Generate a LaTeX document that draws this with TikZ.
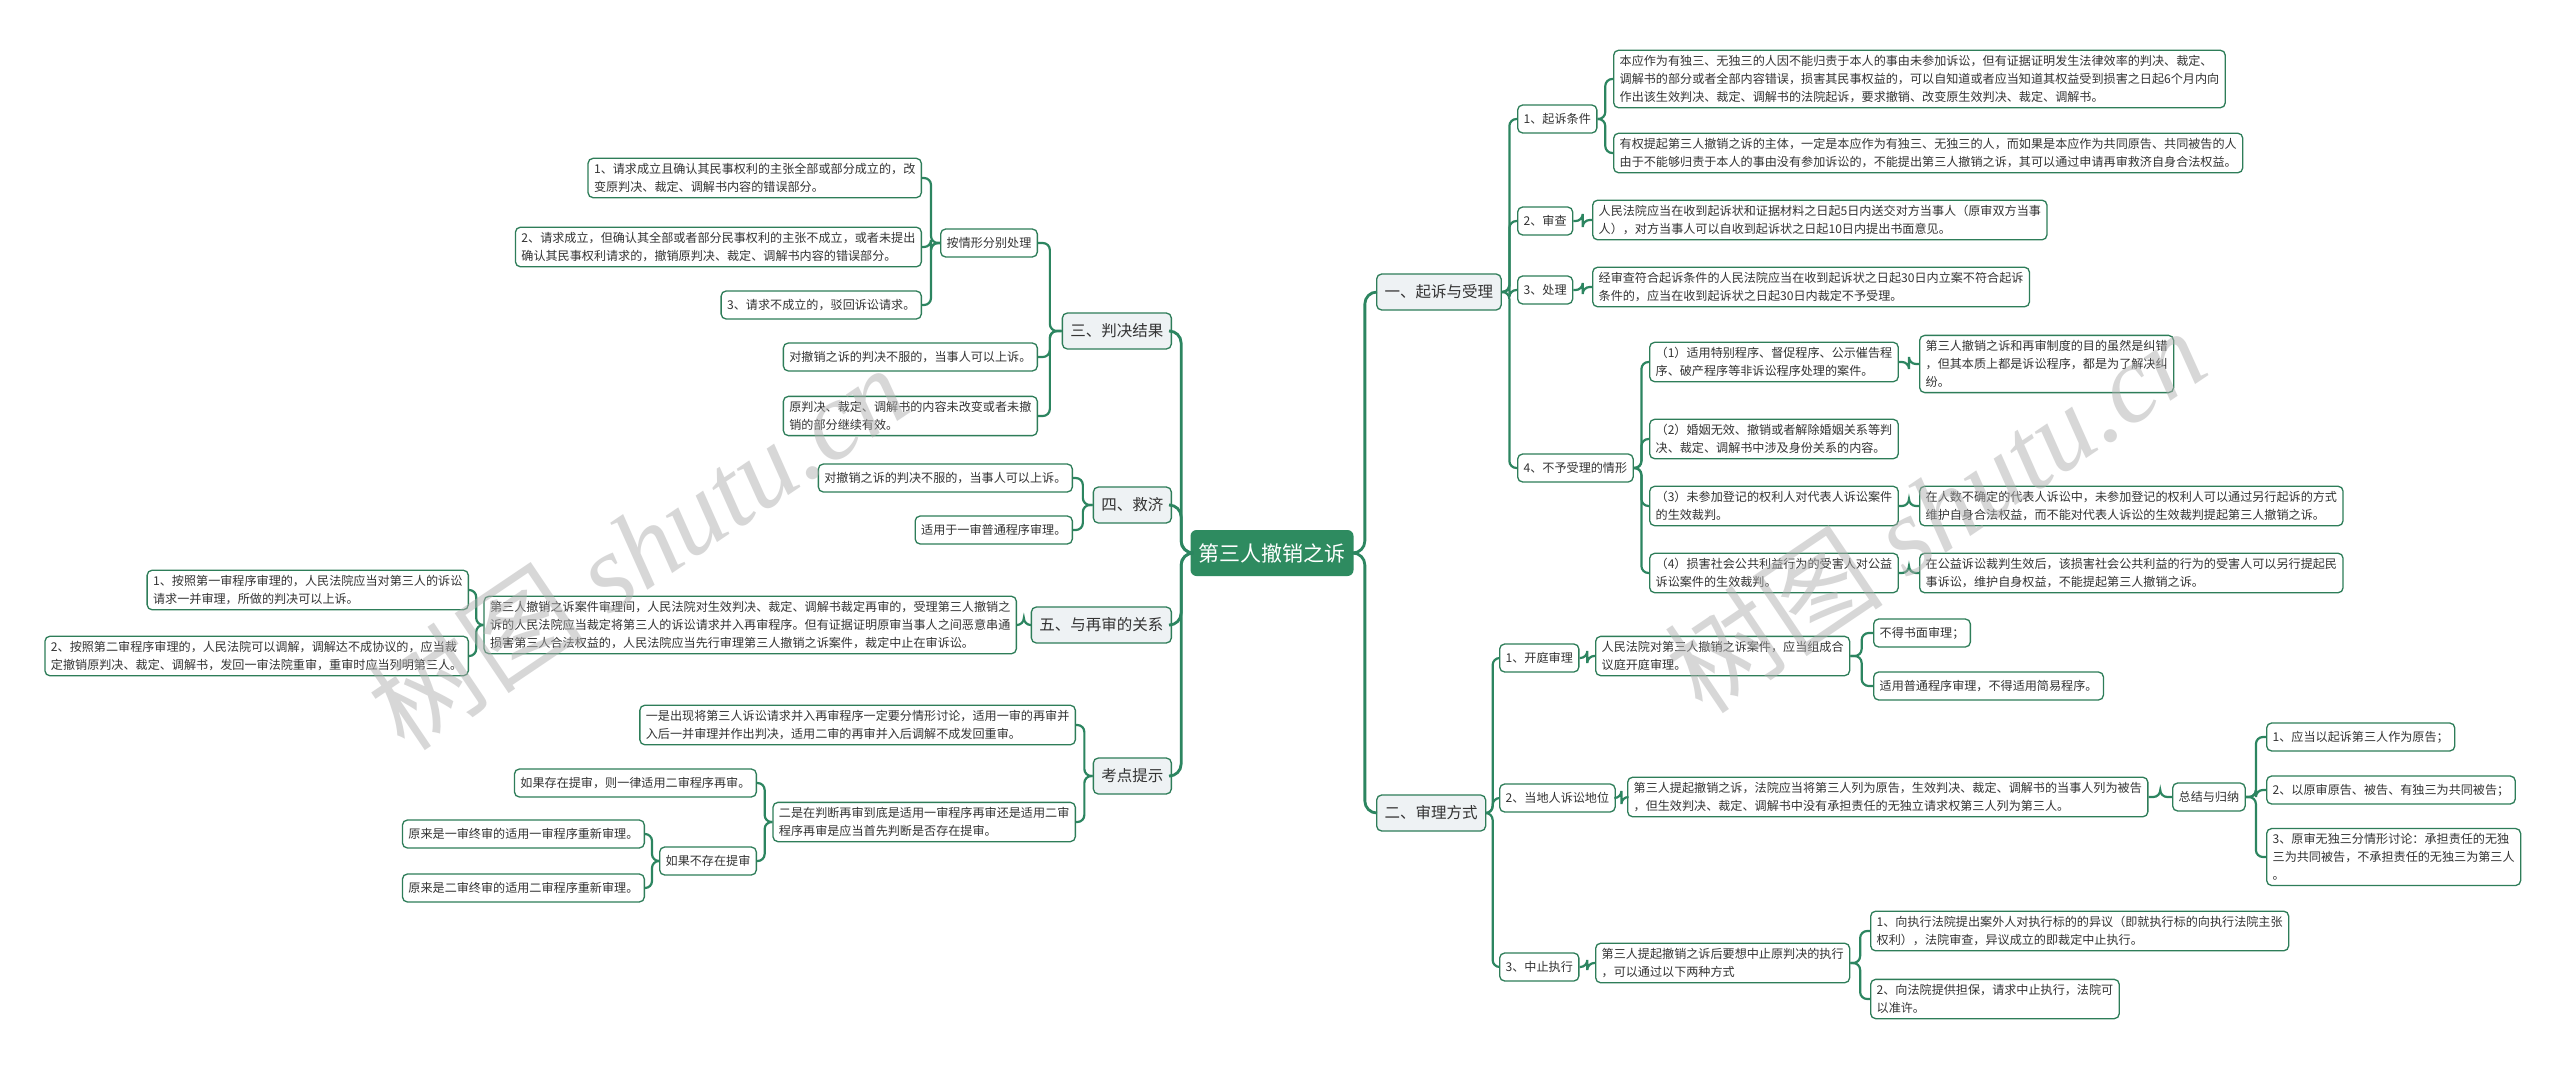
\documentclass[tikz,border=0pt]{standalone}
\usepackage{fontspec}
\setmainfont{Noto Sans CJK SC}
\newfontfamily\wmlatin{Liberation Serif}
\usetikzlibrary{calc}
\definecolor{bc}{HTML}{2E7D59}
\definecolor{lc}{HTML}{2C8560}
\definecolor{lv}{HTML}{EEF2F4}
\definecolor{rootc}{HTML}{2E8B60}
\definecolor{tc}{HTML}{333333}
\definecolor{wmc}{HTML}{B0B0B0}
\tikzset{
  box/.style={draw=bc, line width=1.3pt, rounded corners=5pt, fill=white, text=tc, inner xsep=6pt, inner ysep=5pt, align=left, font=\fontsize{12.1}{18}\selectfont},
  lab/.style={box, minimum height=28pt},
  lvone/.style={box, fill=lv, font=\fontsize{15.5}{19}\selectfont, inner xsep=8pt, minimum height=36pt},
  rootbox/.style={draw=none, fill=rootc, rounded corners=6pt, text=white, font=\fontsize{21}{25}\selectfont, inner xsep=8pt, minimum height=46pt, minimum width=160pt},
  link/.style={draw=lc, line width=2.2pt, rounded corners=7pt},
  mainlink/.style={link, line width=2.8pt, rounded corners=12pt},
  wm/.style={text=wmc, text opacity=0.5, font=\fontsize{110}{110}\selectfont}
}
\newcommand\mmR[3][link]{\draw[#1] let \p1=(#2.east), \p2=(#3.west) in (\p1) -- ({(\x1+\x2)/2},\y1) -- ({(\x1+\x2)/2},\y2) -- (\p2);}
\newcommand\mmL[3][link]{\draw[#1] let \p1=(#2.west), \p2=(#3.east) in (\p1) -- ({(\x1+\x2)/2},\y1) -- ({(\x1+\x2)/2},\y2) -- (\p2);}
\begin{document}
\begin{tikzpicture}[x=1pt,y=-1pt]
\useasboundingbox (0,0) rectangle (2560,1071);
\fill[white] (0,0) rectangle (2560,1071);

% root
\node[rootbox] (root) at (1272,553) {第三人撤销之诉};

% right level 1
\node[lvone,anchor=west] (n1) at (1376,292) {一、起诉与受理};
\node[lvone,anchor=west] (n2) at (1376,813) {二、审理方式};

% branch 一
\node[lab,anchor=west] (a1) at (1517,119) {1、起诉条件};
\node[box,anchor=west] (a1x) at (1613,79) {本应作为有独三、无独三的人因不能归责于本人的事由未参加诉讼，但有证据证明发生法律效率的判决、裁定、\\调解书的部分或者全部内容错误，损害其民事权益的，可以自知道或者应当知道其权益受到损害之日起6个月内向\\作出该生效判决、裁定、调解书的法院起诉，要求撤销、改变原生效判决、裁定、调解书。};
\node[box,anchor=west] (a1y) at (1613,153) {有权提起第三人撤销之诉的主体，一定是本应作为有独三、无独三的人，而如果是本应作为共同原告、共同被告的人\\由于不能够归责于本人的事由没有参加诉讼的，不能提出第三人撤销之诉，其可以通过申请再审救济自身合法权益。};
\node[lab,anchor=west] (a2) at (1517,221) {2、审查};
\node[box,anchor=west] (a2x) at (1592,220) {人民法院应当在收到起诉状和证据材料之日起5日内送交对方当事人（原审双方当事\\人），对方当事人可以自收到起诉状之日起10日内提出书面意见。};
\node[lab,anchor=west] (a3) at (1517,290) {3、处理};
\node[box,anchor=west] (a3x) at (1592,287) {经审查符合起诉条件的人民法院应当在收到起诉状之日起30日内立案不符合起诉\\条件的，应当在收到起诉状之日起30日内裁定不予受理。};
\node[lab,anchor=west] (a4) at (1517,468) {4、不予受理的情形};
\node[box,anchor=west] (a41) at (1649,362) {（1）适用特别程序、督促程序、公示催告程\\序、破产程序等非诉讼程序处理的案件。};
\node[box,anchor=west] (a41x) at (1919,364) {第三人撤销之诉和再审制度的目的虽然是纠错\\，但其本质上都是诉讼程序，都是为了解决纠\\纷。};
\node[box,anchor=west] (a42) at (1649,439) {（2）婚姻无效、撤销或者解除婚姻关系等判\\决、裁定、调解书中涉及身份关系的内容。};
\node[box,anchor=west] (a43) at (1649,506) {（3）未参加登记的权利人对代表人诉讼案件\\的生效裁判。};
\node[box,anchor=west] (a43x) at (1919,506) {在人数不确定的代表人诉讼中，未参加登记的权利人可以通过另行起诉的方式\\维护自身合法权益，而不能对代表人诉讼的生效裁判提起第三人撤销之诉。};
\node[box,anchor=west] (a44) at (1649,573) {（4）损害社会公共利益行为的受害人对公益\\诉讼案件的生效裁判。};
\node[box,anchor=west] (a44x) at (1919,573) {在公益诉讼裁判生效后，该损害社会公共利益的行为的受害人可以另行提起民\\事诉讼，维护自身权益，不能提起第三人撤销之诉。};

% branch 二
\node[lab,anchor=west] (b1) at (1499,658) {1、开庭审理};
\node[box,anchor=west] (b1x) at (1595,656) {人民法院对第三人撤销之诉案件，应当组成合\\议庭开庭审理。};
\node[lab,anchor=west] (b11) at (1873,633) {不得书面审理；};
\node[lab,anchor=west] (b12) at (1873,686) {适用普通程序审理，不得适用简易程序。};
\node[lab,anchor=west] (b2) at (1499,798) {2、当地人诉讼地位};
\node[box,anchor=west] (b2x) at (1627,797) {第三人提起撤销之诉，法院应当将第三人列为原告，生效判决、裁定、调解书的当事人列为被告\\，但生效判决、裁定、调解书中没有承担责任的无独立请求权第三人列为第三人。};
\node[lab,anchor=west] (b2s) at (2172,797) {总结与归纳};
\node[lab,anchor=west] (s1) at (2266,737) {1、应当以起诉第三人作为原告；};
\node[lab,anchor=west] (s2) at (2266,790) {2、以原审原告、被告、有独三为共同被告；};
\node[box,anchor=west] (s3) at (2266,857) {3、原审无独三分情形讨论：承担责任的无独\\三为共同被告，不承担责任的无独三为第三人\\。};
\node[lab,anchor=west] (b3) at (1499,967) {3、中止执行};
\node[box,anchor=west] (b3x) at (1595,963) {第三人提起撤销之诉后要想中止原判决的执行\\，可以通过以下两种方式};
\node[box,anchor=west] (e1) at (1870,931) {1、向执行法院提出案外人对执行标的的异议（即就执行标的向执行法院主张\\权利），法院审查，异议成立的即裁定中止执行。};
\node[box,anchor=west] (e2) at (1870,999) {2、向法院提供担保，请求中止执行，法院可\\以准许。};

% left level 1
\node[lvone,anchor=east] (m3) at (1172,331) {三、判决结果};
\node[lvone,anchor=east] (m4) at (1172,505) {四、救济};
\node[lvone,anchor=east] (m5) at (1172,625) {五、与再审的关系};
\node[lvone,anchor=east] (m6) at (1172,776) {考点提示};

% branch 三
\node[lab,anchor=east] (m3a) at (1038,243) {按情形分别处理};
\node[box,anchor=east] (m3a1) at (922,178) {1、请求成立且确认其民事权利的主张全部或部分成立的，改\\变原判决、裁定、调解书内容的错误部分。};
\node[box,anchor=east] (m3a2) at (922,247) {2、请求成立，但确认其全部或者部分民事权利的主张不成立，或者未提出\\确认其民事权利请求的，撤销原判决、裁定、调解书内容的错误部分。};
\node[lab,anchor=east] (m3a3) at (922,305) {3、请求不成立的，驳回诉讼请求。};
\node[lab,anchor=east] (m3b) at (1038,357) {对撤销之诉的判决不服的，当事人可以上诉。};
\node[box,anchor=east] (m3c) at (1038,416) {原判决、裁定、调解书的内容未改变或者未撤\\销的部分继续有效。};

% branch 四
\node[lab,anchor=east] (m4a) at (1073,478) {对撤销之诉的判决不服的，当事人可以上诉。};
\node[lab,anchor=east] (m4b) at (1073,530) {适用于一审普通程序审理。};

% branch 五
\node[box,anchor=east] (m5x) at (1017,625) {第三人撤销之诉案件审理间，人民法院对生效判决、裁定、调解书裁定再审的，受理第三人撤销之\\诉的人民法院应当裁定将第三人的诉讼请求并入再审程序。但有证据证明原审当事人之间恶意串通\\损害第三人合法权益的，人民法院应当先行审理第三人撤销之诉案件，裁定中止在审诉讼。};
\node[box,anchor=east] (m5a) at (469,590) {1、按照第一审程序审理的，人民法院应当对第三人的诉讼\\请求一并审理，所做的判决可以上诉。};
\node[box,anchor=east] (m5b) at (469,656) {2、按照第二审程序审理的，人民法院可以调解，调解达不成协议的，应当裁\\定撤销原判决、裁定、调解书，发回一审法院重审，重审时应当列明第三人。};

% branch 考点提示
\node[box,anchor=east] (m6a) at (1076,725) {一是出现将第三人诉讼请求并入再审程序一定要分情形讨论，适用一审的再审并\\入后一并审理并作出判决，适用二审的再审并入后调解不成发回重审。};
\node[box,anchor=east] (m6b) at (1076,822) {二是在判断再审到底是适用一审程序再审还是适用二审\\程序再审是应当首先判断是否存在提审。};
\node[lab,anchor=east] (m6b1) at (757,783) {如果存在提审，则一律适用二审程序再审。};
\node[lab,anchor=east] (m6b2) at (757,861) {如果不存在提审};
\node[lab,anchor=east] (m6b21) at (645,834) {原来是一审终审的适用一审程序重新审理。};
\node[lab,anchor=east] (m6b22) at (645,888) {原来是二审终审的适用二审程序重新审理。};

% connectors right
\mmR[mainlink]{root}{n1}
\mmR[mainlink]{root}{n2}
\mmR{n1}{a1} \mmR{n1}{a2} \mmR{n1}{a3} \mmR{n1}{a4}
\mmR{a1}{a1x} \mmR{a1}{a1y}
\mmR{a2}{a2x} \mmR{a3}{a3x}
\mmR{a4}{a41} \mmR{a4}{a42} \mmR{a4}{a43} \mmR{a4}{a44}
\mmR{a41}{a41x} \mmR{a43}{a43x} \mmR{a44}{a44x}
\mmR{n2}{b1} \mmR{n2}{b2} \mmR{n2}{b3}
\mmR{b1}{b1x} \mmR{b1x}{b11} \mmR{b1x}{b12}
\mmR{b2}{b2x} \mmR{b2x}{b2s}
\mmR{b2s}{s1} \mmR{b2s}{s2} \mmR{b2s}{s3}
\mmR{b3}{b3x} \mmR{b3x}{e1} \mmR{b3x}{e2}

% connectors left
\mmL[mainlink]{root}{m3}
\mmL[mainlink]{root}{m4}
\mmL[mainlink]{root}{m5}
\mmL[mainlink]{root}{m6}
\mmL{m3}{m3a} \mmL{m3}{m3b} \mmL{m3}{m3c}
\mmL{m3a}{m3a1} \mmL{m3a}{m3a2} \mmL{m3a}{m3a3}
\mmL{m4}{m4a} \mmL{m4}{m4b}
\mmL{m5}{m5x} \mmL{m5x}{m5a} \mmL{m5x}{m5b}
\mmL{m6}{m6a} \mmL{m6}{m6b}
\mmL{m6b}{m6b1} \mmL{m6b}{m6b2}
\mmL{m6b2}{m6b21} \mmL{m6b2}{m6b22}

% watermarks
\node[wm,rotate=34] (wm1) at (637,547) {树图 {\wmlatin\itshape shutu.cn}};
\node[wm,rotate=34] (wm2) at (1935,510) {树图 {\wmlatin\itshape shutu.cn}};
\end{tikzpicture}
\end{document}
